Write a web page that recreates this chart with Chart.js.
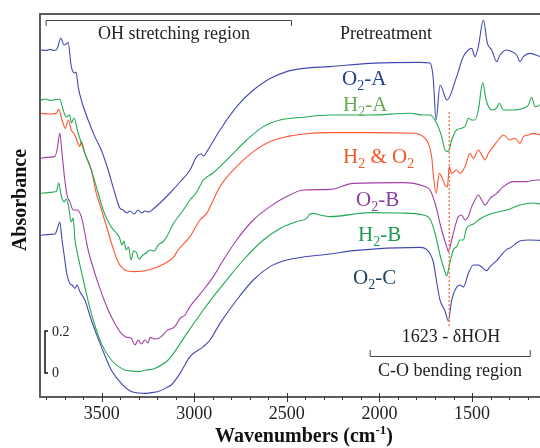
<!DOCTYPE html>
<html>
<head>
<meta charset="utf-8">
<script src="https://cdn.jsdelivr.net/npm/chart.js@4.4.0/dist/chart.umd.min.js"></script>
<style>
  html, body { margin: 0; padding: 0; background: #fff; }
  canvas { display: block; }
</style>
</head>
<body>
<canvas id="chart" width="540" height="448"></canvas>
<script>
// spectra: wavenumber (cm-1) and absorbance (offset, a.u.)
const o2aWn = [3830,3800,3779,3757,3741,3721,3703,3692,3681,3664,3645,3638,3627,3610,3573,3537,3502,3465,3429,3402,3384,3365,3347,3325,3303,3285,3266,3245,3222,3185,3131,3077,3023,2987,2963,2950,2932,2861,2771,2681,2591,2501,2411,2267,2051,1781,1727,1716,1709,1694,1673,1635,1583,1547,1520,1502,1484,1466,1439,1417,1394,1367,1349,1313,1286,1259,1241,1223,1187,1133];
const o2aAbs = [1.735,1.733,1.738,1.733,1.74,1.794,1.76,1.765,1.772,1.652,1.62,1.625,1.552,1.485,1.385,1.302,1.235,1.135,1.02,0.945,0.935,0.92,0.93,0.915,0.935,0.92,0.93,0.925,0.94,0.97,1.02,1.075,1.135,1.202,1.215,1.205,1.227,1.335,1.452,1.535,1.592,1.627,1.643,1.652,1.668,1.673,1.67,1.64,1.585,1.385,1.56,1.485,1.602,1.702,1.735,1.743,1.702,1.752,1.885,1.768,1.735,1.677,1.71,1.735,1.727,1.71,1.677,1.702,1.718,1.702];

const h2aWn = [3830,3800,3779,3750,3726,3708,3691,3672,3664,3649,3627,3591,3556,3519,3492,3455,3421,3405,3390,3380,3368,3355,3341,3328,3314,3298,3282,3260,3239,3215,3195,3170,3149,3114,3059,3023,2990,2951,2899,2807,2717,2627,2537,2411,2267,2051,1835,1765,1727,1691,1664,1646,1628,1610,1583,1538,1520,1502,1484,1466,1442,1424,1394,1367,1353,1331,1295,1223,1196,1178,1160,1133];
const h2aAbs = [1.485,1.49,1.483,1.487,1.489,1.435,1.40,1.41,1.37,1.395,1.32,1.22,1.135,1.02,0.935,0.86,0.82,0.80,0.76,0.78,0.735,0.75,0.685,0.73,0.725,0.69,0.705,0.72,0.735,0.73,0.76,0.775,0.80,0.865,0.935,0.985,1.02,1.085,1.12,1.202,1.285,1.352,1.385,1.399,1.41,1.41,1.419,1.41,1.41,1.369,1.302,1.235,1.227,1.285,1.335,1.352,1.394,1.385,1.385,1.435,1.572,1.485,1.435,1.444,1.469,1.435,1.435,1.444,1.46,1.499,1.452,1.46];

const h2o2Wn = [3833,3779,3745,3732,3714,3696,3681,3664,3645,3627,3618,3610,3591,3556,3529,3509,3476,3444,3411,3374,3321,3249,3159,3113,3087,3023,2969,2933,2897,2861,2771,2681,2591,2501,2411,2267,2051,1817,1763,1736,1718,1709,1694,1677,1664,1646,1633,1623,1610,1583,1565,1538,1511,1493,1466,1448,1430,1412,1385,1358,1331,1295,1268,1241,1223,1196,1169,1133];
const h2o2Abs = [1.418,1.415,1.418,1.438,1.385,1.343,1.385,1.335,1.31,1.268,1.252,1.277,1.218,1.135,1.018,0.96,0.86,0.76,0.675,0.635,0.627,0.635,0.668,0.698,0.735,0.802,0.885,0.918,0.985,1.052,1.152,1.227,1.277,1.302,1.315,1.322,1.322,1.319,1.302,1.268,1.202,1.11,1.018,1.118,1.102,1.06,1.05,1.152,1.118,1.135,1.118,1.152,1.218,1.193,1.235,1.21,1.185,1.218,1.252,1.285,1.31,1.285,1.294,1.268,1.302,1.31,1.318,1.31];

const o2bWn = [3834,3800,3753,3741,3726,3714,3699,3685,3672,3654,3633,3610,3573,3519,3465,3429,3394,3370,3340,3320,3303,3285,3267,3250,3239,3210,3178,3148,3105,3077,3050,3023,2951,2897,2843,2771,2681,2591,2501,2411,2267,2141,1871,1763,1727,1700,1664,1637,1628,1610,1592,1574,1556,1538,1520,1502,1484,1466,1448,1430,1403,1367,1331,1277,1205,1151,1133];
const o2bAbs = [1.193,1.198,1.202,1.235,1.318,1.218,1.085,1.002,0.977,0.935,0.935,0.902,0.735,0.568,0.435,0.368,0.318,0.30,0.293,0.26,0.285,0.265,0.285,0.27,0.298,0.29,0.302,0.332,0.352,0.393,0.41,0.452,0.535,0.602,0.685,0.785,0.885,0.952,1.002,1.035,1.038,1.068,1.072,1.055,1.035,0.97,0.835,0.752,0.727,0.785,0.852,0.902,0.91,0.885,0.902,0.952,0.985,1.01,0.985,0.96,0.993,1.018,1.052,1.077,1.077,1.085,1.085];

const h2bWn = [3833,3779,3745,3732,3718,3703,3692,3680,3664,3654,3644,3627,3591,3556,3502,3448,3375,3340,3303,3260,3213,3141,3087,3040,2951,2897,2825,2735,2627,2537,2447,2393,2375,2357,2321,2267,2051,1889,1763,1727,1700,1673,1646,1637,1619,1601,1583,1565,1547,1529,1493,1457,1403,1313,1241,1169,1133];
const h2bAbs = [1.018,1.023,1.027,1.07,1.005,0.975,0.99,0.96,0.875,0.895,0.785,0.702,0.552,0.418,0.268,0.185,0.135,0.13,0.127,0.135,0.143,0.185,0.252,0.318,0.435,0.502,0.585,0.685,0.785,0.843,0.877,0.893,0.915,0.918,0.91,0.902,0.922,0.92,0.91,0.89,0.82,0.71,0.625,0.605,0.675,0.735,0.752,0.785,0.785,0.845,0.865,0.89,0.915,0.935,0.96,0.97,0.965];

const o2cWn = [3833,3779,3752,3738,3726,3714,3699,3687,3672,3660,3645,3633,3618,3591,3556,3502,3448,3394,3340,3300,3267,3230,3195,3148,3124,3077,3023,2951,2915,2861,2771,2681,2591,2501,2411,2267,2141,1781,1745,1709,1691,1673,1646,1628,1610,1583,1565,1547,1520,1493,1466,1448,1421,1403,1367,1349,1313,1295,1241,1187,1133];
const o2cAbs = [0.808,0.813,0.815,0.845,0.875,0.785,0.685,0.61,0.568,0.56,0.543,0.56,0.527,0.485,0.385,0.252,0.135,0.068,0.027,0.02,0.018,0.022,0.027,0.048,0.06,0.118,0.202,0.252,0.285,0.368,0.485,0.585,0.652,0.685,0.70,0.715,0.732,0.748,0.738,0.675,0.575,0.485,0.43,0.38,0.485,0.55,0.56,0.55,0.618,0.66,0.66,0.65,0.632,0.652,0.682,0.702,0.738,0.745,0.78,0.785,0.783];

const seriesNames = ["O2-A", "H2-A", "H2 & O2", "O2-B", "H2-B", "O2-C"];
const majorTicks = [3500, 3000, 2500, 2000, 1500];
const hohBand = 1623;
const ohRegion = [3800, 2475];
const coRegion = [2050, 1186];

const serif = "'Liberation Serif', 'Times New Roman', serif";

function toPoints(wn, abs) {
  return wn.map((w, i) => ({ x: w, y: abs[i] }));
}

const lineColors = ["#4349b3", "#22aa55", "#ff5533", "#a23fa9", "#22aa55", "#4349b3"];
const allSeries = [
  [o2aWn, o2aAbs], [h2aWn, h2aAbs], [h2o2Wn, h2o2Abs],
  [o2bWn, o2bAbs], [h2bWn, h2bAbs], [o2cWn, o2cAbs]
];

// label pieces: [text, isSubscript]
const labelParts = [
  [["O", 0], ["2", 1], ["-A", 0]],
  [["H", 0], ["2", 1], ["-A", 0]],
  [["H", 0], ["2", 1], [" & O", 0], ["2", 1]],
  [["O", 0], ["2", 1], ["-B", 0]],
  [["H", 0], ["2", 1], ["-B", 0]],
  [["O", 0], ["2", 1], ["-C", 0]]
];
const labelColors = ["#1f3f8f", "#6aaa55", "#f05a2a", "#8a3fa0", "#1e9a50", "#1c4466"];
const labelPos = [[342, 85], [343, 111], [343, 163], [356, 206], [358, 241], [353, 284]];

function drawFormula(ctx, parts, x, y, color) {
  ctx.fillStyle = color;
  ctx.textAlign = "left";
  ctx.textBaseline = "alphabetic";
  let cx = x;
  for (const [t, sub] of parts) {
    ctx.font = (sub ? "14px " : "21px ") + serif;
    ctx.fillText(t, cx, y + (sub ? 5 : 0));
    cx += ctx.measureText(t).width;
  }
}

const annotate = {
  id: "annotate",
  afterDraw(chart) {
    const { ctx, chartArea: a, scales: { x, y } } = chart;
    ctx.save();

    // frame
    ctx.strokeStyle = "#5c5c5c";
    ctx.lineWidth = 2;
    ctx.beginPath();
    ctx.moveTo(a.right, a.top);
    ctx.lineTo(a.left, a.top);
    ctx.lineTo(a.left, a.bottom);
    ctx.lineTo(a.right, a.bottom);
    ctx.stroke();

    // x ticks
    ctx.strokeStyle = "#333";
    ctx.lineWidth = 1;
    for (let w = 3800; w >= 1200; w -= 100) {
      const px = Math.round(x.getPixelForValue(w)) + 0.5;
      const major = majorTicks.includes(w);
      ctx.beginPath();
      ctx.moveTo(px, major ? a.bottom - 4 : a.bottom);
      ctx.lineTo(px, a.bottom + (major ? 5 : 3));
      ctx.stroke();
    }
    ctx.fillStyle = "#222";
    ctx.font = "18px " + serif;
    ctx.textAlign = "center";
    ctx.textBaseline = "alphabetic";
    majorTicks.forEach(w => ctx.fillText(String(w), x.getPixelForValue(w), 419));

    // axis titles
    ctx.fillStyle = "#111";
    ctx.font = "bold 20px " + serif;
    const t1 = "Wavenumbers (cm", t2 = "-1", t3 = ")";
    ctx.textAlign = "left";
    const w1 = ctx.measureText(t1).width;
    ctx.font = "bold 13px " + serif;
    const w2 = ctx.measureText(t2).width;
    ctx.font = "bold 20px " + serif;
    const w3 = ctx.measureText(t3).width;
    let sx = 304 - (w1 + w2 + w3) / 2;
    ctx.fillText(t1, sx, 442);
    ctx.font = "bold 13px " + serif;
    ctx.fillText(t2, sx + w1, 434);
    ctx.font = "bold 20px " + serif;
    ctx.fillText(t3, sx + w1 + w2, 442);

    ctx.save();
    ctx.translate(26, 200);
    ctx.rotate(-Math.PI / 2);
    ctx.textAlign = "center";
    ctx.fillText("Absorbance", 0, 0);
    ctx.restore();

    // 1623 cm-1 marker
    const hx = x.getPixelForValue(hohBand);
    ctx.strokeStyle = "#f2703f";
    ctx.lineWidth = 1.3;
    ctx.setLineDash([2, 2]);
    ctx.beginPath();
    ctx.moveTo(hx, 112);
    ctx.lineTo(hx, 326);
    ctx.stroke();
    ctx.setLineDash([]);

    // region brackets
    ctx.strokeStyle = "#444";
    ctx.lineWidth = 1;
    const o1 = x.getPixelForValue(ohRegion[0]), o2 = x.getPixelForValue(ohRegion[1]);
    ctx.beginPath();
    ctx.moveTo(o1, 26); ctx.lineTo(o1, 20.5); ctx.lineTo(o2, 20.5); ctx.lineTo(o2, 26);
    ctx.stroke();
    const c1 = x.getPixelForValue(coRegion[0]), c2 = x.getPixelForValue(coRegion[1]);
    ctx.beginPath();
    ctx.moveTo(c1, 350); ctx.lineTo(c1, 356.5); ctx.lineTo(c2, 356.5); ctx.lineTo(c2, 350);
    ctx.stroke();

    ctx.fillStyle = "#222";
    ctx.font = "18px " + serif;
    ctx.textAlign = "center";
    ctx.fillText("OH stretching region", 174, 39);
    ctx.fillText("Pretreatment", 386, 39);
    ctx.fillText("1623 - \u03b4HOH", 451, 342);
    ctx.fillText("C-O bending region", 450, 376);

    // scale bar
    ctx.strokeStyle = "#111";
    ctx.lineWidth = 1.5;
    ctx.beginPath();
    ctx.moveTo(48, 331); ctx.lineTo(45, 331); ctx.lineTo(45, 373); ctx.lineTo(48, 373);
    ctx.stroke();
    ctx.font = "14px " + serif;
    ctx.textAlign = "left";
    ctx.fillText("0.2", 52, 336);
    ctx.fillText("0", 52, 377);

    // series labels
    labelParts.forEach((p, i) => drawFormula(ctx, p, labelPos[i][0], labelPos[i][1], labelColors[i]));

    ctx.restore();
  }
};

new Chart(document.getElementById("chart"), {
  type: "line",
  data: {
    datasets: allSeries.map((s, i) => ({
      label: seriesNames[i],
      data: toPoints(s[0], s[1]),
      borderColor: lineColors[i],
      borderWidth: 1.1,
      pointRadius: 0,
      cubicInterpolationMode: "monotone",
      fill: false
    }))
  },
  options: {
    responsive: false,
    animation: false,
    devicePixelRatio: 1,
    layout: { padding: { left: 40, top: 14, right: 0, bottom: 51 } },
    plugins: { legend: { display: false }, tooltip: { enabled: false } },
    scales: {
      x: { type: "linear", reverse: true, min: 1133, max: 3833, display: false },
      y: { type: "linear", min: 0, max: 1.915, display: false }
    }
  },
  plugins: [annotate]
});
</script>
</body>
</html>
